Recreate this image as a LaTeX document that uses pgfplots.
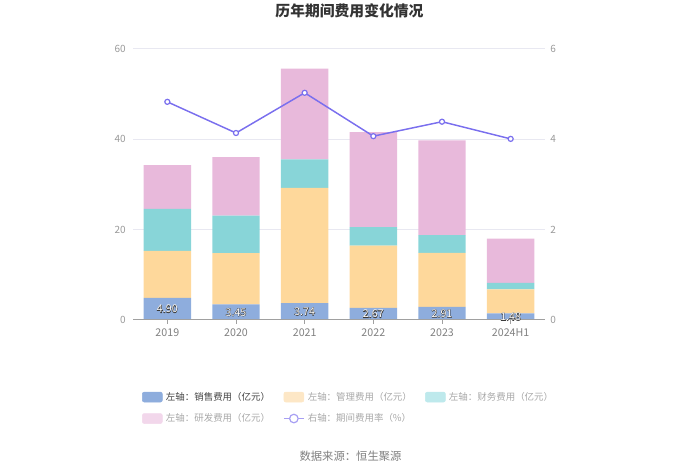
\documentclass[border=0pt]{standalone}
\usepackage{fontspec}
\setmainfont{Noto Sans CJK SC}
\newfontfamily\outlinefont{Noto Sans CJK SC}[FakeBold=6]
\usepackage{pgfplots}
\pgfplotsset{compat=1.18}
\definecolor{cSales}{HTML}{8EADDD}
\definecolor{cMgmt}{HTML}{FED89B}
\definecolor{cFin}{HTML}{88D5D8}
\definecolor{cRD}{HTML}{E8B9DB}
\definecolor{cLine}{HTML}{7A6FEE}
\definecolor{lMgmt}{HTML}{FDE7C6}
\definecolor{lFin}{HTML}{BEE9EC}
\definecolor{lRD}{HTML}{F2D7EB}
\definecolor{lLine}{HTML}{A79FF3}
\definecolor{gridc}{HTML}{E8E8F1}
\definecolor{axisc}{HTML}{A0A0A0}
\definecolor{tickc}{HTML}{999999}
\definecolor{xtickc}{HTML}{808080}
\definecolor{legdark}{HTML}{444444}
\definecolor{leglight}{HTML}{A8A8A8}
\definecolor{titlec}{HTML}{333333}
\definecolor{labc}{HTML}{3A3A3A}
\pgfplotstableread{
x y label
0 2.45 4.90
1 1.725 3.45
2 1.87 3.74
3 1.335 2.67
4 1.455 2.91
5 0.74 1.48
}\labeltable
\begin{document}
\begin{tikzpicture}
\path[use as bounding box] (0,0) rectangle (525pt,354.75pt);
\pgfplotsset{
  common/.style={
    at={(99.75pt,114.75pt)}, anchor=south west,
    scale only axis, width=309pt, height=203.25pt,
    xmin=-0.5, xmax=5.5,
    /pgf/number format/assume math mode=true,
  }
}
% bars
\begin{axis}[common,
  ybar stacked, bar width=0.69,
  ymin=0, ymax=60, ytick={0,20,40,60},
  axis x line=none, xtick=\empty,
  axis y line*=left, y axis line style={draw=none}, ytick style={draw=none},
  ymajorgrids, grid style={color=gridc, line width=0.75pt},
  yticklabel style={font=\fontsize{7.5}{8}\selectfont, color=tickc, inner sep=0pt, xshift=-5.25pt},
  legend style={at={(axis description cs:0.022,-0.265)}, anchor=north west,
    draw=none, fill=none, inner sep=0pt, outer sep=0pt,
    font=\fontsize{7.1}{8}\selectfont,
    nodes={inner sep=0pt},
    /tikz/every odd column/.append style={column sep=2.5pt},
    /tikz/every even column/.append style={column sep=0pt},
    row sep=8.2pt},
  legend columns=3, legend cell align=left,
]
\addplot+[forget plot, fill=cSales, draw=none] coordinates {(0,4.90) (1,3.45) (2,3.74) (3,2.67) (4,2.91) (5,1.48)};
\addplot+[forget plot, fill=cMgmt, draw=none] coordinates {(0,10.40) (1,11.33) (2,25.53) (3,13.81) (4,11.95) (5,5.32)};
\addplot+[forget plot, fill=cFin, draw=none] coordinates {(0,9.30) (1,8.35) (2,6.28) (3,4.07) (4,3.91) (5,1.40)};
\addplot+[forget plot, fill=cRD, draw=none] coordinates {(0,9.70) (1,12.94) (2,20.10) (3,21.05) (4,20.99) (5,9.83)};
\addlegendimage{legend image code/.code={\fill[cSales, rounded corners=1.5pt] (0pt,-3.75pt) rectangle (15pt,3.75pt);}}
\addlegendentry{\makebox[88pt][l]{\textcolor{legdark}{左轴：销售费用（亿元）}}}
\addlegendimage{legend image code/.code={\fill[lMgmt, rounded corners=1.5pt] (0pt,-3.75pt) rectangle (15pt,3.75pt);}}
\addlegendentry{\makebox[88pt][l]{\textcolor{leglight}{左轴：管理费用（亿元）}}}
\addlegendimage{legend image code/.code={\fill[lFin, rounded corners=1.5pt] (0pt,-3.75pt) rectangle (15pt,3.75pt);}}
\addlegendentry{\makebox[88pt][l]{\textcolor{leglight}{左轴：财务费用（亿元）}}}
\addlegendimage{legend image code/.code={\fill[lRD, rounded corners=1.5pt] (0pt,-3.75pt) rectangle (15pt,3.75pt);}}
\addlegendentry{\makebox[88pt][l]{\textcolor{leglight}{左轴：研发费用（亿元）}}}
\addlegendimage{legend image code/.code={\draw[lLine, line width=0.9pt] (0pt,0pt) -- (15pt,0pt); \draw[lLine, line width=0.9pt, fill=white] (7.5pt,0pt) circle (3.2pt);}}
\addlegendentry{\makebox[88pt][l]{\textcolor{leglight}{右轴：期间费用率（\%）}}}
\end{axis}
% line, right axis
\begin{axis}[common,
  ymin=0, ymax=6, ytick={0,2,4,6},
  axis x line=none, xtick=\empty,
  axis y line*=right, y axis line style={draw=none}, ytick style={draw=none},
  yticklabel style={font=\fontsize{7.5}{8}\selectfont, color=tickc, inner sep=0pt, xshift=3.75pt},
]
\addplot[color=cLine, line width=1.1pt, mark=*, mark size=1.9pt, mark options={fill=white, line width=0.9pt}] coordinates {(0,4.83) (1,4.14) (2,5.03) (3,4.07) (4,4.39) (5,4.01)};
\end{axis}
% x axis and bar labels
\begin{axis}[common,
  ymin=0, ymax=60,
  axis y line=none,
  axis x line*=bottom, x axis line style={color=axisc, line width=0.75pt, -},
  xtick={0,1,2,3,4,5}, xticklabels={2019,2020,2021,2022,2023,2024H1},
  xtick style={color=axisc, line width=0.75pt}, xtick align=outside, major tick length=3pt,
  xticklabel style={font=\fontsize{8}{9}\selectfont, color=xtickc, inner sep=0pt, yshift=-3pt},
]
\addplot[draw=none, mark=none, nodes near coords, point meta=explicit symbolic,
  every node near coord/.append style={anchor=center, font=\outlinefont\fontsize{8}{9}\selectfont, color=labc}]
  table[meta=label] {\labeltable};
\addplot[draw=none, mark=none, nodes near coords, point meta=explicit symbolic,
  every node near coord/.append style={anchor=center, font=\fontsize{8}{9}\selectfont, color=white}]
  table[meta=label] {\labeltable};
\end{axis}
\node[font=\fontsize{11.1}{12}\selectfont\bfseries, color=titlec] at (262.1pt,346.5pt) {历年期间费用变化情况};
\node[font=\fontsize{8.5}{9}\selectfont, color=xtickc] at (262.9pt,12.75pt) {数据来源：恒生聚源};
\end{tikzpicture}
\end{document}
